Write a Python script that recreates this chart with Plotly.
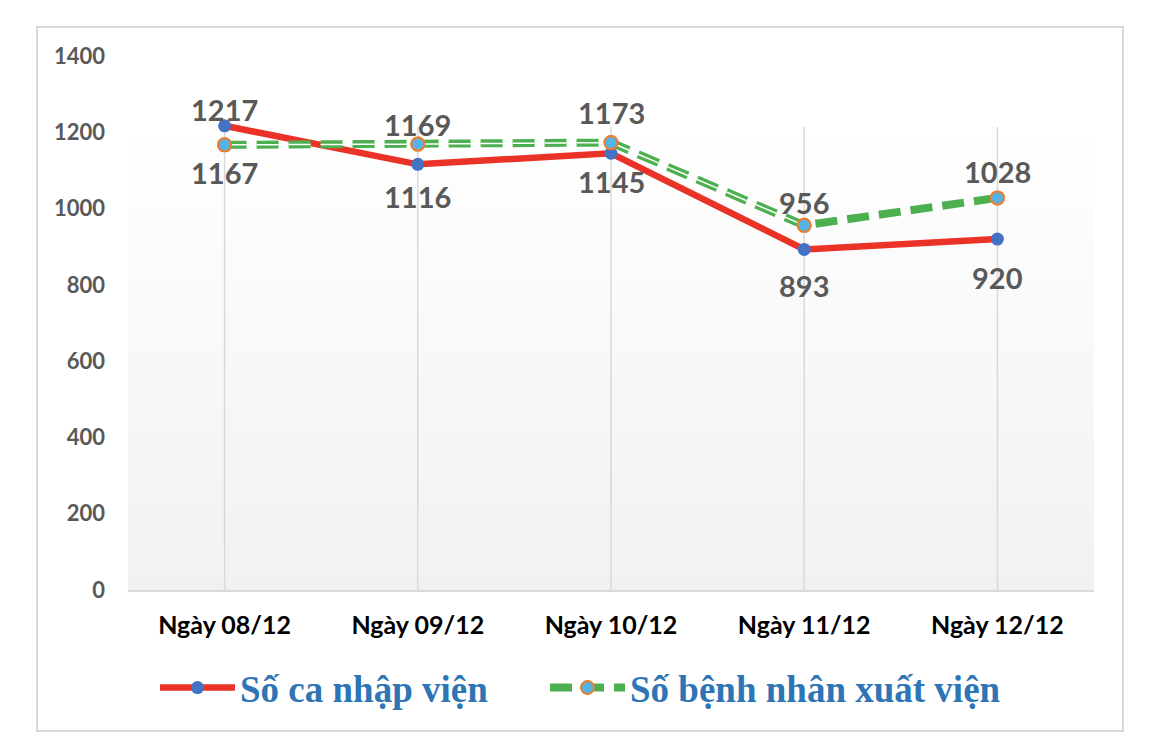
import plotly.graph_objects as go

categories = ["Ngày 08/12", "Ngày 09/12", "Ngày 10/12", "Ngày 11/12", "Ngày 12/12"]
admitted = [1217, 1116, 1145, 893, 920]
discharged = [1167, 1169, 1173, 956, 1028]
name_admitted = "Số ca nhập viện"
name_discharged = "Số bệnh nhân xuất viện"
y_ticks = [0, 200, 400, 600, 800, 1000, 1200, 1400]

# label offsets in px (positive = up) -- style only
admitted_label_shift = [16, -32, -28, -36, -38]
discharged_label_shift = [-28, 20, 30, 23, 26]

W, H = 1156, 750
L, R, T, B = 128, 1094, 56, 590  # plot area in px

def px_x(p):
    return (p - L) / (R - L)

def px_y(p):
    return (B - p) / (B - T)

label_font = dict(family="Lato", size=29, color="#595959", weight="bold")
legend_font = dict(family="Liberation Serif", size=37, color="#2E75B6", weight="bold")
dash = "22px,10px"

fig = go.Figure()

fig.add_trace(go.Scatter(
    x=categories, y=admitted, name=name_admitted, mode="lines+markers",
    line=dict(color="#EA3326", width=6.5),
    marker=dict(color="#4472C4", size=13),
    legend="legend",
))
fig.add_trace(go.Scatter(
    x=categories, y=discharged, name=name_discharged, mode="lines+markers",
    line=dict(color="#4CAF50", width=8, dash=dash),
    marker=dict(color="#55B4E6", size=13, line=dict(color="#ED7D31", width=2)),
    legend="legend2",
))
fig.add_trace(go.Scatter(
    x=categories[:4], y=discharged[:4], mode="lines",
    line=dict(color="white", width=1.5, dash=dash),
    showlegend=False, hoverinfo="skip",
))
fig.add_trace(go.Scatter(
    x=categories, y=discharged, mode="markers",
    marker=dict(color="#55B4E6", size=13, line=dict(color="#ED7D31", width=2)),
    showlegend=False, hoverinfo="skip",
))

annotations = []
for series, shifts in ((admitted, admitted_label_shift), (discharged, discharged_label_shift)):
    for cat, v, s in zip(categories, series, shifts):
        annotations.append(dict(x=cat, y=v, text=str(v), showarrow=False,
                                yshift=s, xanchor="center", yanchor="middle",
                                font=label_font))

shapes = []
# gradient background of plot area
top_p = px_y(127)
N = 40
for i in range(N):
    f0 = i / N
    f1 = (i + 1) / N
    c = round(255 - 14 * (1 - (f0 + f1) / 2))
    shapes.append(dict(type="rect", xref="paper", yref="paper",
                       x0=0, x1=1, y0=top_p * f0, y1=top_p * f1 + 0.002,
                       fillcolor=f"rgb({c},{c},{c})", line=dict(width=0), layer="below"))
for cat in categories:
    shapes.append(dict(type="line", xref="x", yref="paper", x0=cat, x1=cat,
                       y0=0, y1=top_p, line=dict(color="#d9d9d9", width=1.5), layer="below"))
# outer chart border
shapes.append(dict(type="rect", xref="paper", yref="paper",
                   x0=px_x(37), x1=px_x(1123), y0=px_y(731), y1=px_y(27),
                   line=dict(color="#d9d9d9", width=2), fillcolor="rgba(0,0,0,0)", layer="below"))

fig.update_layout(
    width=W, height=H,
    margin=dict(l=L, r=W - R, t=T, b=H - B),
    paper_bgcolor="white", plot_bgcolor="rgba(0,0,0,0)",
    shapes=shapes, annotations=annotations,
    showlegend=True,
    legend=dict(orientation="h", x=px_x(155), xanchor="left", y=px_y(688), yanchor="middle",
                font=legend_font, itemwidth=75, bgcolor="rgba(0,0,0,0)"),
    legend2=dict(orientation="h", x=px_x(545), xanchor="left", y=px_y(688), yanchor="middle",
                 font=legend_font, itemwidth=75, bgcolor="rgba(0,0,0,0)"),
    xaxis=dict(range=[-0.5, 4.5], showgrid=False, zeroline=False, showline=True,
               linecolor="#d9d9d9", linewidth=1.5, ticks="", ticklabelstandoff=12,
               tickfont=dict(family="Lato", size=25, color="#000000", weight="bold")),
    yaxis=dict(range=[0, 1400], tickvals=y_ticks, showgrid=False, zeroline=False,
               showline=False, ticks="", ticklabelstandoff=22,
               tickfont=dict(family="Lato", size=22, color="#595959", weight="bold")),
)

fig.write_html("out.html")
